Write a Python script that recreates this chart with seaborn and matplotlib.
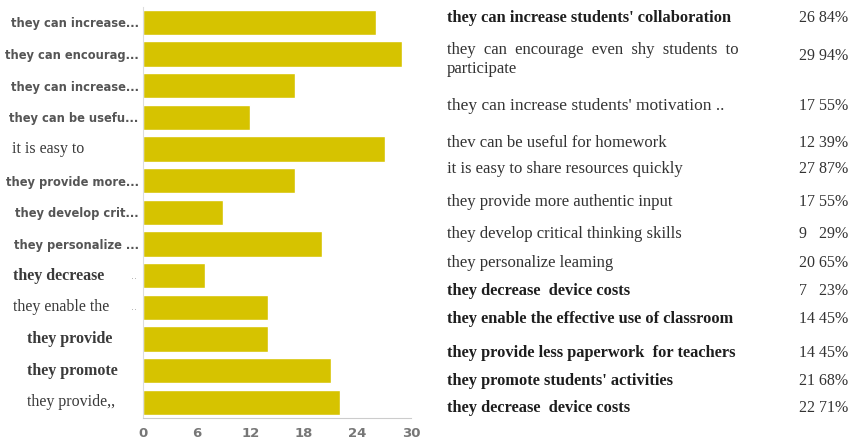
import matplotlib
matplotlib.use("Agg")
import matplotlib.pyplot as plt
import matplotlib.transforms as mtransforms
import seaborn as sns
import pandas as pd

# Data
short_labels = ["they can increase...", "they can encourag...", "they can increase...",
                "they can be usefu...", "it is easy to", "they provide more...",
                "they develop crit...", "they personalize ...", "they decrease",
                "they enable the", "they provide", "they promote", "they provide,,"]
full_labels = ["they can increase students' collaboration",
               "they  can  encourage  even  shy  students  to\nparticipate",
               "they can increase students' motivation ..",
               "thev can be useful for homework",
               "it is easy to share resources quickly",
               "they provide more authentic input",
               "they develop critical thinking skills",
               "they personalize leaming",
               "they decrease  device costs",
               "they enable the effective use of classroom",
               "they provide less paperwork  for teachers",
               "they promote students' activities",
               "they decrease  device costs"]
counts = [26, 29, 17, 12, 27, 17, 9, 20, 7, 14, 14, 21, 22]
percents = [84, 94, 55, 39, 87, 55, 29, 65, 23, 45, 45, 68, 71]
x_ticks = [0, 6, 12, 18, 24, 30]

# which left labels were pasted in as serif text, and where they start (px)
serif_left = {4: 12, 8: 13, 9: 13, 10: 27, 11: 27, 12: 27}
bold_left = [8, 10, 11]
dots_left = [8, 9]
bold_right = [0, 8, 9, 10, 11, 12]

df = pd.DataFrame({"label": [f"{i}" for i in range(len(counts))], "count": counts})

sns.set_style("white")
fig = plt.figure(figsize=(8.5, 4.43), dpi=100)
ax = fig.add_axes([0.168, 0.056, 0.316, 0.929])

sns.barplot(data=df, x="count", y="label", color="#D6C300", saturation=1,
            width=0.8, ax=ax, orient="h")
ax.set_xlim(0, 30)
ax.set_xticks(x_ticks)
ax.set_xlabel("")
ax.set_ylabel("")
ax.set_yticks(range(len(short_labels)))
ax.set_yticklabels([("" if i in serif_left else s) for i, s in enumerate(short_labels)])
for t in ax.get_yticklabels():
    t.set_family("DejaVu Sans")
    t.set_fontsize(8.3)
    t.set_color("#555555")
    t.set_fontweight("bold")

trans = mtransforms.blended_transform_factory(fig.transFigure, ax.transData)
for i, x0 in serif_left.items():
    ax.text(x0 / 850, i, short_labels[i], transform=trans, family="Liberation Serif",
            fontsize=11.5, color="#3a3a3a", va="center", ha="left",
            fontweight="bold" if i in bold_left else "normal")
for i in dots_left:
    ax.text(134 / 850, i, "..", transform=trans, family="DejaVu Sans",
            fontsize=7, color="#aaaaaa", va="center", ha="center")

for t in ax.get_xticklabels():
    t.set_color("#777777")
    t.set_fontsize(9.5)
    t.set_fontweight("bold")
ax.tick_params(axis="y", length=0, pad=3)
ax.tick_params(axis="x", length=3, color="#cccccc", pad=3)
for s in ["top", "right"]:
    ax.spines[s].set_visible(False)
ax.spines["left"].set_color("#dddddd")
ax.spines["bottom"].set_color("#cccccc")

# right-hand table of labels, counts and percentages
row_y = [18, 42, 106, 143, 169, 202, 234, 263, 291, 319, 353, 381, 408]
val_y = [18, 56, 106, 143, 169, 202, 234, 263, 291, 319, 353, 381, 408]
for i in range(len(full_labels)):
    bold = i in bold_right
    size = 11.8 if bold else 12
    if i == 2:
        size = 12.5
    fig.text(447 / 850, 1 - row_y[i] / 443, full_labels[i], family="Liberation Serif",
             fontsize=size, fontweight="bold" if bold else "normal",
             color="#1e1e1e" if bold else "#333333",
             va="top" if i == 1 else "center", linespacing=1.25)
    sep = "   " if counts[i] < 10 else " "
    fig.text(848 / 850, 1 - val_y[i] / 443, f"{counts[i]}{sep}{percents[i]}%",
             family="Liberation Serif", fontsize=11.5, color="#333333",
             ha="right", va="center")

fig.savefig("out.png", dpi=100, facecolor="white")
